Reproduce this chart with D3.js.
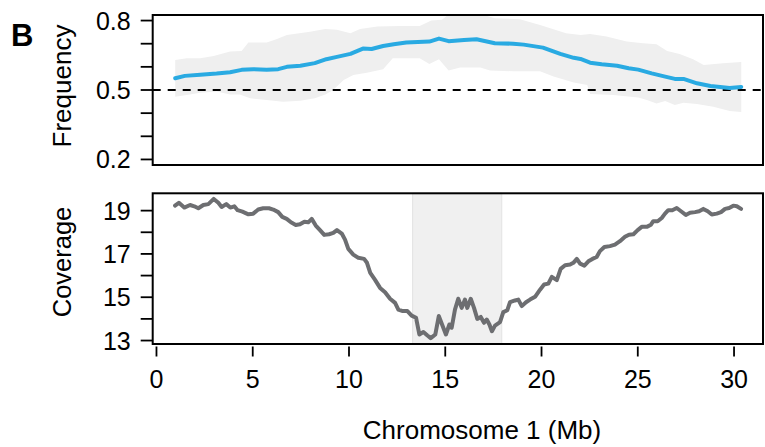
<!DOCTYPE html>
<html>
<head>
<meta charset="utf-8">
<script src="https://cdn.jsdelivr.net/npm/d3@7"></script>
<style>
  body { margin: 0; background: #fff; }
  text { font-family: "Liberation Sans", Arial, sans-serif; fill: #000; }
</style>
</head>
<body>
<div id="chart"></div>
<script>
"use strict";

// allele frequency, mean line
var freqPos = [1.0, 1.5, 2.3, 3.15, 3.85, 4.45, 5.05, 5.75, 6.35, 6.8, 7.5, 8.25, 8.85, 9.4, 10.1, 10.75, 11.2, 11.8, 12.35, 13.0, 14.2, 14.7, 15.2, 16.0, 16.65, 17.6, 18.55, 19.1, 20.1, 21.0, 21.7, 22.05, 22.55, 23.15, 23.95, 24.55, 25.05, 25.75, 26.45, 26.95, 27.4, 28.1, 28.8, 29.8, 30.4];
var freqMean = [0.551, 0.561, 0.566, 0.571, 0.577, 0.587, 0.590, 0.588, 0.590, 0.600, 0.605, 0.616, 0.633, 0.643, 0.656, 0.679, 0.677, 0.690, 0.698, 0.705, 0.709, 0.722, 0.711, 0.716, 0.719, 0.702, 0.700, 0.696, 0.683, 0.656, 0.639, 0.634, 0.618, 0.611, 0.605, 0.594, 0.588, 0.572, 0.558, 0.548, 0.548, 0.529, 0.517, 0.509, 0.513];

// grey band around it
var upperPos = [1.0, 1.6, 2.3, 3.0, 3.85, 4.45, 4.8, 5.75, 6.25, 6.8, 8.0, 8.8, 9.4, 10.1, 10.6, 11.5, 12.7, 13.7, 14.3, 14.85, 15.1, 17.2, 17.6, 18.9, 19.95, 21.3, 22.05, 22.55, 23.4, 24.45, 25.3, 26.0, 26.55, 27.2, 27.9, 28.45, 29.45, 30.4];
var upperVals = [0.630, 0.637, 0.637, 0.647, 0.666, 0.669, 0.705, 0.705, 0.719, 0.738, 0.752, 0.764, 0.760, 0.745, 0.763, 0.774, 0.777, 0.777, 0.800, 0.803, 0.820, 0.820, 0.810, 0.806, 0.781, 0.745, 0.738, 0.742, 0.731, 0.709, 0.702, 0.698, 0.669, 0.656, 0.633, 0.608, 0.616, 0.621];
var lowerPos = [1.0, 1.6, 2.3, 3.15, 3.85, 4.35, 4.9, 5.75, 6.6, 7.5, 8.25, 8.8, 9.2, 9.75, 10.25, 10.95, 11.8, 12.3, 13.7, 14.2, 14.7, 15.2, 15.8, 16.85, 17.35, 18.55, 19.95, 20.65, 21.7, 22.4, 22.55, 23.75, 25.05, 25.5, 26.0, 26.45, 26.95, 27.4, 28.1, 28.95, 29.8, 30.4];
var lowerVals = [0.471, 0.478, 0.488, 0.493, 0.481, 0.481, 0.464, 0.457, 0.449, 0.454, 0.464, 0.481, 0.500, 0.543, 0.565, 0.575, 0.590, 0.637, 0.637, 0.612, 0.633, 0.584, 0.597, 0.597, 0.584, 0.581, 0.581, 0.558, 0.532, 0.522, 0.483, 0.478, 0.468, 0.457, 0.442, 0.452, 0.435, 0.445, 0.439, 0.428, 0.409, 0.405];

// read depth
var covPos = [0.99, 1.19, 1.47, 1.77, 1.99, 2.2, 2.46, 2.72, 3.0, 3.24, 3.41, 3.65, 3.86, 4.07, 4.24, 4.49, 4.8, 5.05, 5.31, 5.57, 5.87, 6.09, 6.35, 6.56, 6.79, 7.01, 7.26, 7.48, 7.71, 7.91, 8.09, 8.3, 8.52, 8.74, 8.99, 9.21, 9.4, 9.65, 9.82, 9.99, 10.25, 10.51, 10.81, 10.96, 11.13, 11.38, 11.64, 11.9, 12.16, 12.42, 12.59, 12.82, 13.06, 13.28, 13.51, 13.68, 13.89, 14.1, 14.27, 14.51, 14.69, 14.86, 15.06, 15.24, 15.36, 15.53, 15.7, 15.88, 16.05, 16.17, 16.35, 16.52, 16.69, 16.87, 17.04, 17.18, 17.32, 17.45, 17.61, 17.87, 18.04, 18.25, 18.39, 18.65, 18.82, 19.0, 19.22, 19.43, 19.69, 19.95, 20.16, 20.38, 20.56, 20.82, 21.02, 21.25, 21.51, 21.68, 21.86, 22.03, 22.25, 22.46, 22.67, 22.89, 23.06, 23.29, 23.58, 23.84, 24.1, 24.36, 24.57, 24.8, 25.02, 25.23, 25.49, 25.71, 25.83, 26.06, 26.27, 26.44, 26.61, 26.82, 27.05, 27.27, 27.52, 27.74, 28.0, 28.21, 28.43, 28.66, 28.87, 29.13, 29.35, 29.56, 29.77, 29.99, 30.17, 30.39];
var covVals = [19.23, 19.36, 19.14, 19.26, 19.2, 19.11, 19.26, 19.3, 19.54, 19.36, 19.17, 19.3, 19.14, 19.2, 19.02, 18.95, 18.83, 18.86, 19.05, 19.11, 19.11, 19.05, 18.93, 18.71, 18.62, 18.46, 18.34, 18.37, 18.49, 18.46, 18.62, 18.31, 18.1, 17.88, 17.91, 17.97, 18.1, 17.94, 17.66, 17.23, 16.97, 16.82, 16.77, 16.59, 16.12, 15.8, 15.43, 15.23, 14.93, 14.74, 14.43, 14.36, 14.36, 14.15, 14.05, 13.28, 13.39, 13.23, 13.11, 13.28, 14.13, 13.74, 13.28, 13.74, 13.59, 14.43, 14.93, 14.51, 14.89, 14.51, 14.93, 14.51, 14.0, 14.09, 13.82, 13.97, 13.74, 13.43, 13.69, 13.85, 14.31, 14.4, 14.77, 14.85, 14.89, 14.59, 14.77, 14.89, 15.02, 15.35, 15.59, 15.63, 15.94, 15.79, 16.31, 16.48, 16.51, 16.59, 16.77, 16.55, 16.46, 16.66, 16.77, 16.86, 17.13, 17.32, 17.36, 17.43, 17.59, 17.79, 17.89, 17.91, 18.1, 18.25, 18.25, 18.35, 18.51, 18.51, 18.66, 18.86, 19.02, 19.02, 19.12, 18.97, 18.8, 18.9, 18.93, 18.97, 19.08, 18.97, 18.82, 18.86, 18.93, 19.08, 19.12, 19.23, 19.2, 19.08];

var region = [13.33, 17.96];
var xTicks = [0, 5, 10, 15, 20, 25, 30];
var freqTicks = [0.2, 0.3, 0.4, 0.5, 0.6, 0.7, 0.8];
var freqLabels = [0.2, 0.5, 0.8];
var covTicks = [13, 14, 15, 16, 17, 18, 19];
var covLabels = [13, 15, 17, 19];

var width = 765, height = 447;
var left = 152.7, right = 763;

var svg = d3.select("#chart").append("svg")
  .attr("width", width)
  .attr("height", height);

var x = d3.scaleLinear().domain([-0.17, 31.53]).range([left, right]);
var yFreq = d3.scaleLinear().domain([0.176, 0.824]).range([165, 15]);
var yCov = d3.scaleLinear().domain([12.84, 19.8]).range([344, 193.3]);

function yAxis(scale, ticks, labels, fmt) {
  svg.selectAll(null).data(ticks).enter().append("line")
    .attr("x1", left - 12).attr("x2", left)
    .attr("y1", function(d) { return scale(d); })
    .attr("y2", function(d) { return scale(d); })
    .attr("stroke", "#000").attr("stroke-width", 1.8);
  svg.selectAll(null).data(labels).enter().append("text")
    .attr("x", left - 22)
    .attr("y", function(d) { return scale(d); })
    .attr("dy", "0.36em")
    .attr("text-anchor", "end")
    .style("font-size", "25px")
    .text(fmt);
}

function frame(scale) {
  var r = scale.range();
  svg.append("rect")
    .attr("x", left).attr("y", r[1])
    .attr("width", right - left).attr("height", r[0] - r[1])
    .attr("fill", "none").attr("stroke", "#000").attr("stroke-width", 2);
}

// top panel
var band = upperPos.map(function(p, i) { return [x(p), yFreq(upperVals[i])]; })
  .concat(lowerPos.map(function(p, i) { return [x(p), yFreq(lowerVals[i])]; }).reverse());
svg.append("path")
  .attr("d", d3.line()(band) + "Z")
  .attr("fill", "#efefef");

svg.append("line")
  .attr("x1", left).attr("x2", right)
  .attr("y1", yFreq(0.5)).attr("y2", yFreq(0.5))
  .attr("stroke", "#000").attr("stroke-width", 1.8)
  .attr("stroke-dasharray", "8,7");

svg.append("path")
  .datum(freqPos.map(function(p, i) { return [p, freqMean[i]]; }))
  .attr("fill", "none")
  .attr("stroke", "#29aae2")
  .attr("stroke-width", 4)
  .attr("stroke-linejoin", "round")
  .attr("stroke-linecap", "round")
  .attr("d", d3.line()
    .x(function(d) { return x(d[0]); })
    .y(function(d) { return yFreq(d[1]); }));

frame(yFreq);
yAxis(yFreq, freqTicks, freqLabels, function(d) { return d.toFixed(1); });

// bottom panel
svg.append("rect")
  .attr("x", x(region[0])).attr("y", yCov.range()[1])
  .attr("width", x(region[1]) - x(region[0]))
  .attr("height", yCov.range()[0] - yCov.range()[1])
  .attr("fill", "#f0f0f0").attr("stroke", "#e2e2e2").attr("stroke-width", 1);

svg.append("path")
  .datum(covPos.map(function(p, i) { return [p, covVals[i]]; }))
  .attr("fill", "none")
  .attr("stroke", "#6d6e71")
  .attr("stroke-width", 4)
  .attr("stroke-linejoin", "round")
  .attr("stroke-linecap", "round")
  .attr("d", d3.line()
    .x(function(d) { return x(d[0]); })
    .y(function(d) { return yCov(d[1]); }));

frame(yCov);
yAxis(yCov, covTicks, covLabels, function(d) { return d; });

// x axis, ticks hang below the frame
var xAxis = svg.append("g")
  .attr("transform", "translate(0,346.5)")
  .call(d3.axisBottom(x).tickValues(xTicks).tickSize(10).tickPadding(14));
xAxis.select(".domain").remove();
xAxis.selectAll("line").attr("stroke", "#000").attr("stroke-width", 1.8);
xAxis.selectAll("text")
  .style("font-size", "25px")
  .style("font-family", "'Liberation Sans', Arial, sans-serif")
  .attr("fill", "#000");

// titles
svg.append("text")
  .attr("transform", "translate(71,86) rotate(-90)")
  .attr("text-anchor", "middle")
  .style("font-size", "26px")
  .text("Frequency");
svg.append("text")
  .attr("transform", "translate(71,262) rotate(-90)")
  .attr("text-anchor", "middle")
  .style("font-size", "25.5px")
  .text("Coverage");
svg.append("text")
  .attr("x", 482).attr("y", 438.5)
  .attr("text-anchor", "middle")
  .style("font-size", "26px")
  .text("Chromosome 1 (Mb)");
svg.append("text")
  .attr("x", 11).attr("y", 45.7)
  .style("font-size", "31px")
  .style("font-weight", "bold")
  .text("B");
</script>
</body>
</html>
